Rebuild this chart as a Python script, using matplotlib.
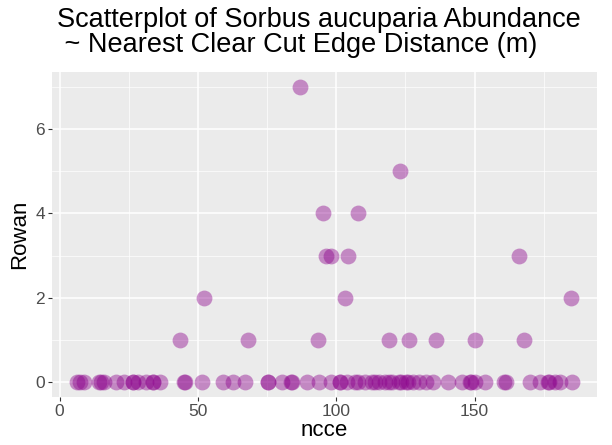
import matplotlib
matplotlib.use("Agg")
import matplotlib.pyplot as plt
from matplotlib.ticker import MultipleLocator

# Zero-abundance plots (Rowan == 0), distance to nearest clear cut edge
ncce_zero = [6.2, 7.5, 8.7, 14.2, 15.0, 16.1, 20.3, 23.4, 26.5, 26.5, 28.3,
             31.4, 33.8, 33.8, 36.3, 44.9, 45.2, 51.6, 58.9, 62.6, 66.9,
             75.5, 75.5, 80.4, 83.5, 84.0, 89.6, 93.9, 98.2, 101.2, 101.5,
             104.0, 106.7, 108.0, 110.4, 112.9, 114.0, 115.3, 117.8, 119.0,
             120.2, 122.7, 123.5, 125.1, 126.0, 127.6, 130.0, 132.5, 134.9,
             140.4, 145.3, 148.4, 148.8, 150.2, 153.9, 160.7, 161.2, 169.9,
             173.5, 176.6, 177.0, 179.0, 180.9, 185.2]

# Plots with Rowan present
ncce_pos = [43.4, 52.2, 68.0, 87.0, 93.3, 95.1, 96.3, 98.1, 103.0, 104.3,
            108.0, 119.1, 123.2, 126.2, 136.0, 150.0, 166.0, 168.0, 185.0]
rowan_pos = [1, 2, 1, 7, 1, 4, 3, 3, 2, 3,
             4, 1, 5, 1, 1, 1, 3, 1, 2]

ncce = ncce_zero + ncce_pos
rowan = [0] * len(ncce_zero) + rowan_pos

plt.rcParams["font.family"] = ["Liberation Sans", "DejaVu Sans"]

fig = plt.figure(figsize=(6.12, 4.45), dpi=100)
ax = fig.add_axes([0.085, 0.108, 0.89, 0.73])

ax.scatter(ncce, rowan, s=130, color="#8B008B", alpha=0.42,
           linewidths=0, zorder=3)

# ggplot-like limits (5% expansion)
xmin, xmax = min(ncce), max(ncce)
dx = (xmax - xmin) * 0.05
ax.set_xlim(xmin - dx, xmax + dx)
ax.set_ylim(-0.35, 7.35)

ax.set_facecolor("#EBEBEB")
for s in ax.spines.values():
    s.set_visible(False)

ax.xaxis.set_major_locator(MultipleLocator(50))
ax.xaxis.set_minor_locator(MultipleLocator(25))
ax.yaxis.set_major_locator(MultipleLocator(2))
ax.yaxis.set_minor_locator(MultipleLocator(1))
ax.grid(which="major", color="white", linewidth=1.1, zorder=0)
ax.grid(which="minor", color="white", linewidth=0.5, zorder=0)
ax.set_axisbelow(True)

ax.tick_params(which="major", length=3, width=0.8, color="#333333",
               labelsize=12.5, labelcolor="#4D4D4D", pad=2)
ax.tick_params(which="minor", length=0)

ax.set_xlabel("ncce", fontsize=16, labelpad=1)
ax.set_ylabel("Rowan", fontsize=16, labelpad=4)

fig.text(0.093, 0.985,
         "Scatterplot of Sorbus aucuparia Abundance\n ~ Nearest Clear Cut Edge Distance (m)",
         fontsize=19.5, ha="left", va="top", linespacing=0.95)

fig.savefig("out.png", dpi=100, facecolor="white")
